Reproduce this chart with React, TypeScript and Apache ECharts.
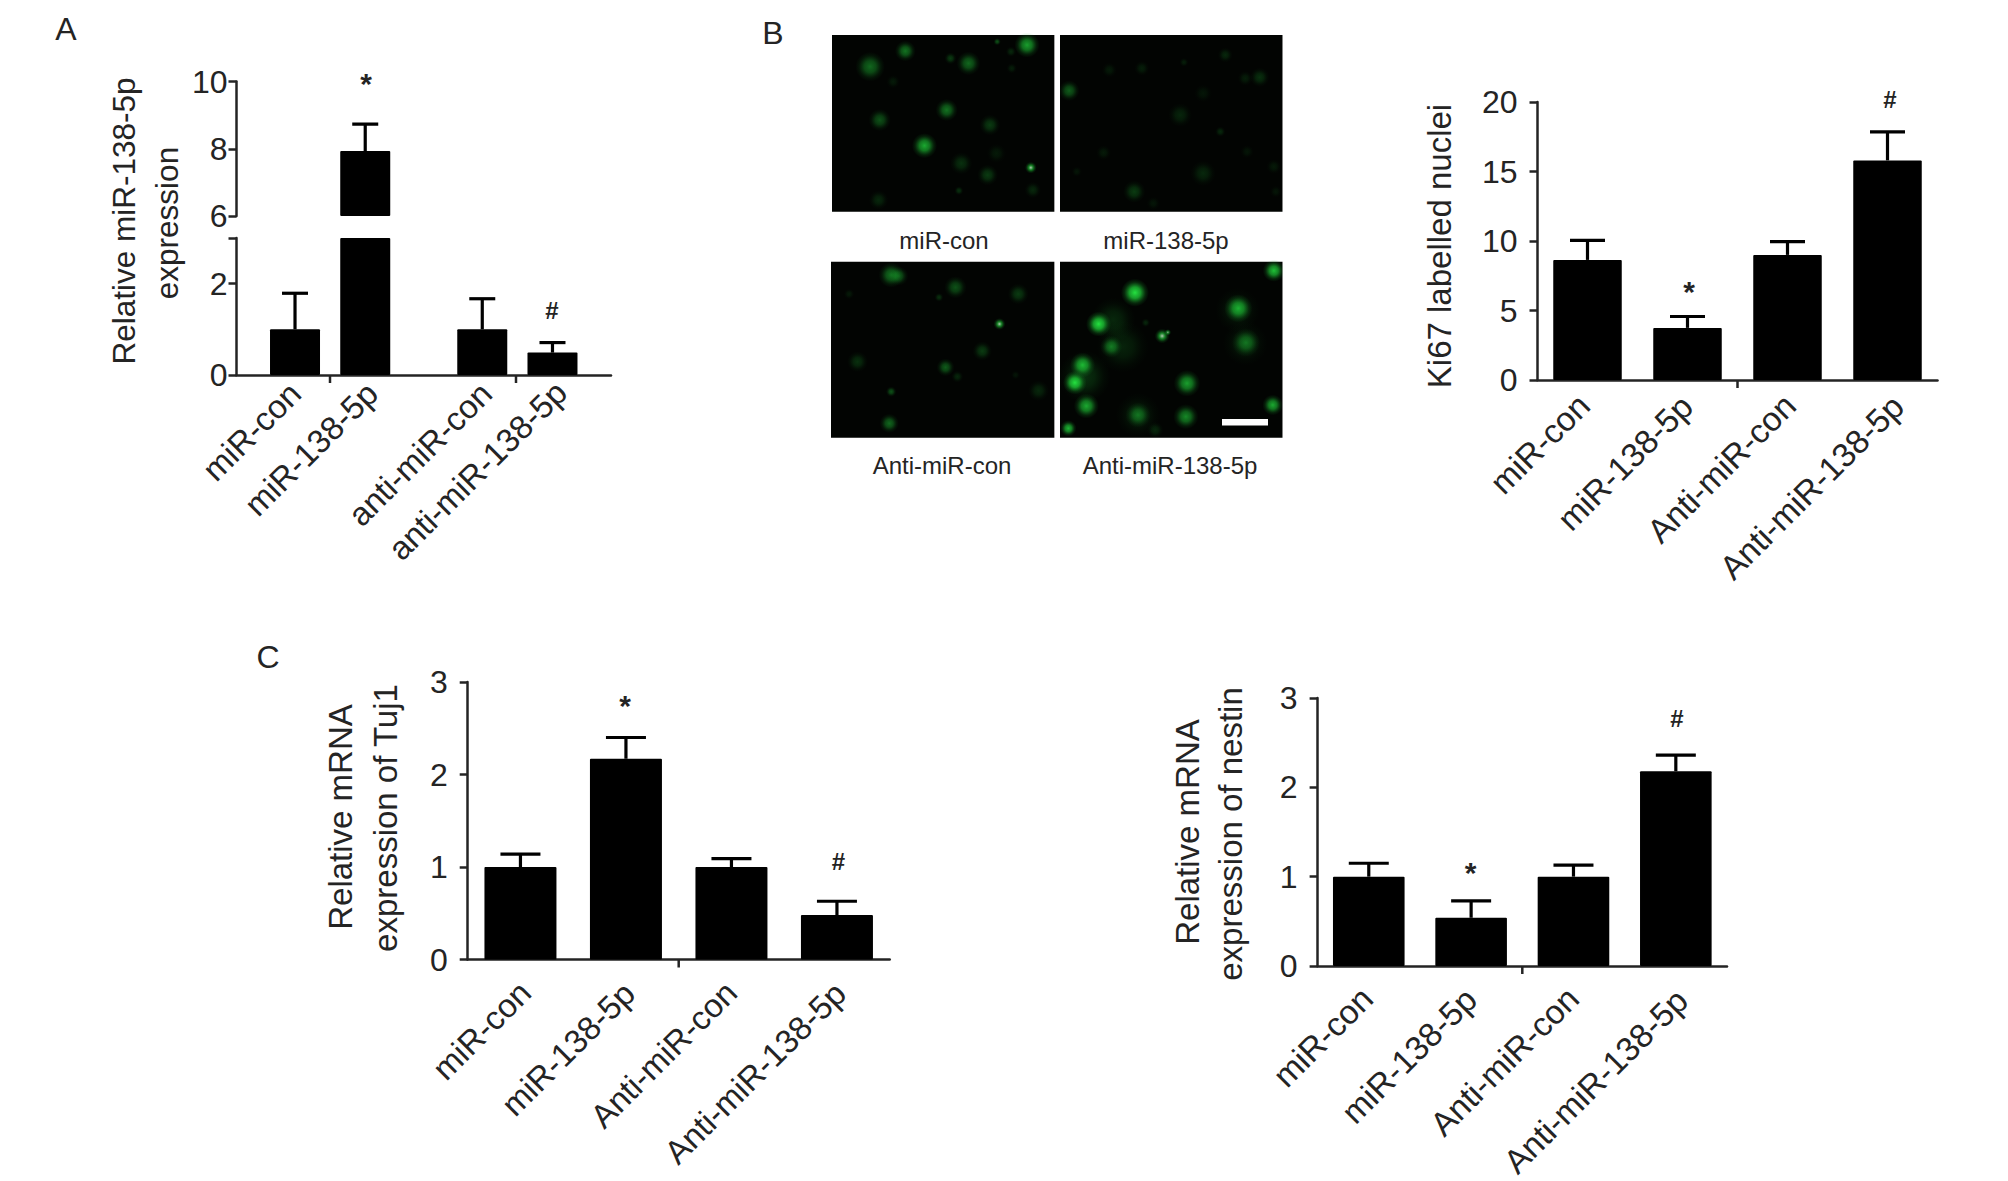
import React, { useEffect, useRef } from "react";
import * as echarts from "echarts";

const FONT = '"Liberation Sans", Arial, sans-serif';
const INK = "#242424";

// Panel A (broken axis, blank slots space the groups)
const aCategories = ["", "", "miR-con", "", "", "miR-138-5p", "", "", "", "", "anti-miR-con", "", "", "anti-miR-138-5p", "", ""];
const aMeans = [1.0, 7.93, 1.0, 0.49];
const aUppers = [1.79, 8.73, 1.67, 0.71];
// Panel B
const bCategories = ["miR-con", "miR-138-5p", "Anti-miR-con", "Anti-miR-138-5p"];
const bMeans = [8.64, 3.75, 9.0, 15.8];
const bUppers = [10.05, 4.57, 9.95, 17.85];
// Panel C, Tuj1
const tujMeans = [1.0, 2.17, 1.0, 0.48];
const tujUppers = [1.14, 2.4, 1.09, 0.63];
// Panel C, nestin
const nestinMeans = [1.0, 0.54, 1.0, 2.18];
const nestinUppers = [1.15, 0.73, 1.13, 2.36];

const imageLabels = ["miR-con", "miR-138-5p", "Anti-miR-con", "Anti-miR-138-5p"];

// Fluorescent nuclei in the micrographs: [x, y, radius, brightness]
const nuclei: number[][] = [
  [340, 200, 40, 0.45], [432, 153, 28, 0.5], [597, 190, 32, 0.45], [550, 175, 16, 0.25], [750, 135, 34, 0.7], [672, 125, 10, 0.35],
  [708, 155, 14, 0.16], [540, 330, 30, 0.5], [365, 360, 30, 0.35], [653, 375, 28, 0.25], [482, 437, 34, 0.75], [760, 503, 16, 0.8],
  [578, 490, 30, 0.2], [647, 525, 28, 0.25], [572, 572, 12, 0.2], [765, 570, 22, 0.16], [362, 600, 26, 0.16], [400, 245, 18, 0.1],
  [710, 205, 14, 0.12], [670, 460, 26, 0.1],
  [860, 272, 28, 0.4], [1050, 205, 20, 0.12], [965, 210, 20, 0.1], [1160, 187, 12, 0.12], [1268, 165, 20, 0.16], [1358, 232, 26, 0.2],
  [1320, 235, 20, 0.12], [1150, 345, 32, 0.15], [1255, 395, 14, 0.16], [950, 458, 20, 0.1], [880, 515, 14, 0.08], [1210, 520, 34, 0.16],
  [1030, 575, 30, 0.25], [1395, 500, 20, 0.1], [1400, 575, 16, 0.08], [1325, 455, 18, 0.08], [1210, 280, 24, 0.08], [1080, 610, 18, 0.08],
  [395, 825, 34, 0.5], [415, 828, 26, 0.35], [563, 862, 30, 0.35], [727, 882, 28, 0.25], [520, 892, 12, 0.2], [285, 882, 14, 0.1],
  [678, 972, 16, 0.8], [633, 1053, 26, 0.25], [307, 1085, 28, 0.2], [537, 1102, 24, 0.4], [568, 1130, 16, 0.16], [395, 1175, 14, 0.35],
  [390, 1270, 26, 0.45], [780, 1172, 28, 0.16], [720, 1125, 12, 0.08],
  [975, 960, 60, 0.16], [1000, 1040, 70, 0.14], [900, 1130, 70, 0.2], [1040, 1245, 60, 0.12], [1320, 1030, 60, 0.12], [1300, 930, 60, 0.12],
  [1032, 878, 38, 1], [1395, 812, 30, 0.85], [1302, 925, 38, 0.75], [937, 972, 34, 1], [1103, 1008, 20, 0.8],
  [1118, 997, 9, 0.65], [970, 1040, 30, 0.5], [1322, 1028, 38, 0.45], [895, 1095, 34, 0.8], [875, 1148, 32, 1], [1168, 1150, 36, 0.7],
  [905, 1218, 34, 0.75], [1040, 1245, 34, 0.45], [1165, 1250, 34, 0.6], [1392, 1215, 28, 0.75], [858, 1285, 22, 0.8], [1060, 968, 12, 0.16],
  [1085, 1290, 22, 0.16],
];

type Box = { left: number; right: number; top: number; bottom: number };
const HEIGHT = 1181;
const WIDTH = 2008;

const grid = (b: Box) => ({ left: b.left, width: b.right - b.left, top: b.top, height: b.bottom - b.top });

const aUpper: Box = { left: 236.5, right: 611, top: 81.5, bottom: 216 };
const aLower: Box = { left: 236.5, right: 611, top: 238, bottom: 375 };
const bBox: Box = { left: 1537.5, right: 1937.5, top: 102, bottom: 380 };
const cBox: Box = { left: 467.7, right: 889.7, top: 682, bottom: 959.5 };
const dBox: Box = { left: 1317.6, right: 1727, top: 698, bottom: 966 };

const axisLine = { show: true, onZero: false, lineStyle: { color: INK, width: 2.5 } };
const tick = { show: true, length: 8, lineStyle: { color: INK, width: 2.5 } };

const xAxis = (gridIndex: number, data: string[], show = true) => ({
  type: "category", gridIndex, data, show, boundaryGap: true,
  axisLine, axisTick: { show: false }, axisLabel: { show: false },
});
const yAxis = (gridIndex: number, min: number, max: number, interval: number, margin: number, hide?: number) => ({
  type: "value", gridIndex, min, max, interval, splitLine: { show: false }, axisLine, axisTick: tick,
  axisLabel: {
    margin, fontFamily: FONT, fontSize: 32, color: INK,
    formatter: (v: number) => (v === hide ? "" : String(v)),
  },
});

const bars = (axis: number, data: (number | null)[], barWidth: number) => ({
  type: "bar", xAxisIndex: axis, yAxisIndex: axis, data, barWidth, barGap: "-100%", clip: true,
  itemStyle: { color: "#000", borderRadius: 1 }, silent: true,
});

const errorBars = (axis: number, data: number[][], capWidth: number) => ({
  type: "custom", xAxisIndex: axis, yAxisIndex: axis, data, silent: true, clip: true,
  encode: { x: 0, y: [1, 2] },
  renderItem: (_p: any, api: any) => {
    const base = api.coord([api.value(0), api.value(1)]);
    const high = api.coord([api.value(0), api.value(2)]);
    const style = { stroke: "#000", lineWidth: 3.2 };
    return {
      type: "group",
      children: [
        { type: "line", shape: { x1: base[0], y1: base[1], x2: base[0], y2: high[1] }, style },
        { type: "line", shape: { x1: base[0] - capWidth / 2, y1: high[1], x2: base[0] + capWidth / 2, y2: high[1] }, style },
      ],
    };
  },
});

const label = (text: string, x: number, y: number, fontSize = 32, rotation = 0, fontWeight = "normal") => ({
  type: "text", x, y, rotation, z: 10,
  style: { text, x: 0, y: 0, align: "center", verticalAlign: "middle", fontFamily: FONT, fontSize, fontWeight, fill: INK },
});
const vertical = (text: string, x: number, y: number, size = 33) => label(text, x, y, size, Math.PI / 2);
const slanted = (text: string, x: number, y: number, fontSize: number) => ({
  type: "text", x, y, rotation: Math.PI / 4, z: 10,
  style: { text, x: 0, y: 0, align: "right", verticalAlign: "middle", fontFamily: FONT, fontSize, fill: INK },
});
const stub = (x: number, y: number) => ({
  type: "line", z: 10, shape: { x1: x, y1: y, x2: x, y2: y + 8 }, style: { stroke: INK, lineWidth: 2.5 },
});

const panelRects = [
  [832, 35, 222.6, 176.7], [1060, 35, 222.7, 176.7],
  [831, 261.7, 223.6, 176], [1060, 261.7, 222.7, 176],
];

const imageGraphics = () => {
  const out: any[] = panelRects.map(([x, y, width, height]) => ({
    type: "rect", shape: { x, y, width, height }, style: { fill: "#020402" }, z: 1,
  }));
  nuclei.forEach(([cx, cy, cr, a]) => {
    const white = cr <= 20 && a >= 0.65;
    out.push({
      type: "circle", z: 2,
      shape: { cx: 740 + cx / 2.613, cy: cy / 3, r: cr / 2.7 },
      style: {
        fill: {
          type: "radial", x: 0.5, y: 0.5, r: 0.5,
          colorStops: [
            { offset: 0, color: white ? `rgba(225,250,225,${a})` : `rgba(36,225,64,${a})` },
            { offset: 0.4, color: `rgba(30,205,55,${a * 0.75})` },
            { offset: 0.75, color: `rgba(25,170,45,${a * 0.22})` },
            { offset: 1, color: "rgba(20,150,40,0)" },
          ],
        },
      },
    });
  });
  // Thin white gutters keep glows inside each micrograph
  out.push({ type: "rect", z: 3, shape: { x: 1054.6, y: 30, width: 5.4, height: 415 }, style: { fill: "#fff" } });
  out.push({ type: "rect", z: 3, shape: { x: 1282.7, y: 30, width: 12, height: 415 }, style: { fill: "#fff" } });
  out.push({ type: "rect", z: 3, shape: { x: 1222, y: 419, width: 46, height: 6.5 }, style: { fill: "#fff" } });
  return out;
};

// Where each rotated tick label ends (the source figure offsets them unevenly)
const aEnds = [[295, 388], [372, 388], [486, 388], [561, 387]];
const bEnds = [[1584, 400], [1687, 401], [1790, 400], [1898, 401]];
const cEnds = [[525, 987], [629, 988], [731, 987], [840, 988]];
const dEnds = [[1367, 993], [1471, 994], [1573, 993], [1682, 995]];

export default function App() {
  const ref = useRef<HTMLDivElement>(null);
  useEffect(() => {
    if (!ref.current) return;
    const chart = echarts.init(ref.current, null, { renderer: "svg" });
    const aNames = aCategories.filter((c) => c);
    const aSlot = aNames.map((n) => aCategories.indexOf(n));
    const aFull = aCategories.map((c) => (c ? aMeans[aNames.indexOf(c)] : null));
    const aErr = aMeans.map((m, i) => [aSlot[i], m, aUppers[i]]);
    const zip = (m: number[], u: number[]) => m.map((v, i) => [i, v, u[i]]);

    chart.setOption({
      animation: false,
      backgroundColor: "#fff",
      grid: [grid(aUpper), grid(aLower), grid(bBox), grid(cBox), grid(dBox)],
      xAxis: [
        xAxis(0, aCategories, false),
        xAxis(1, aCategories),
        xAxis(2, bCategories),
        xAxis(3, bCategories),
        xAxis(4, bCategories),
      ],
      yAxis: [
        yAxis(0, 6, 10, 2, 9),
        yAxis(1, 0, 3, 2, 9, 3),
        yAxis(2, 0, 20, 5, 20),
        yAxis(3, 0, 3, 1, 20),
        yAxis(4, 0, 3, 1, 20),
      ],
      series: [
        bars(0, aFull.map((v) => (v !== null && v > 6 ? v : null)), 50),
        bars(1, aFull, 50),
        errorBars(0, aErr.filter((e) => e[1] > 6), 26),
        errorBars(1, aErr.filter((e) => e[1] <= 6), 26),
        bars(2, bMeans, 68.5),
        errorBars(2, zip(bMeans, bUppers), 35),
        bars(3, tujMeans, 72),
        errorBars(3, zip(tujMeans, tujUppers), 40),
        bars(4, nestinMeans, 71.6),
        errorBars(4, zip(nestinMeans, nestinUppers), 40),
      ],
      graphic: [
        ...imageGraphics(),
        ...aNames.map((t, i) => slanted(t, aEnds[i][0], aEnds[i][1], 33)),
        ...bCategories.map((t, i) => slanted(t, bEnds[i][0], bEnds[i][1], 33.5)),
        ...bCategories.map((t, i) => slanted(t, cEnds[i][0], cEnds[i][1], 33)),
        ...bCategories.map((t, i) => slanted(t, dEnds[i][0], dEnds[i][1], 33.5)),
        label("A", 66, 29),
        label("B", 773, 33),
        label("C", 268, 657),
        vertical("Relative miR-138-5p", 124, 221, 31.5),
        vertical("expression", 166.5, 223, 31.5),
        vertical("Ki67 labelled nuclei", 1439, 246),
        vertical("Relative mRNA", 340.5, 817),
        vertical("expression of Tuj1", 385, 818),
        vertical("Relative mRNA", 1187, 832),
        vertical("expression of nestin", 1230, 834),
        label(imageLabels[0], 944, 240, 24),
        label(imageLabels[1], 1166, 240, 24),
        label(imageLabels[2], 942, 465.7, 24),
        label(imageLabels[3], 1170, 465.7, 24),
        label("*", 366, 83, 30, 0, "bold"),
        label("#", 552, 310, 24, 0, "bold"),
        label("*", 1689, 291, 30, 0, "bold"),
        label("#", 1890, 99, 24, 0, "bold"),
        label("*", 625, 705, 30, 0, "bold"),
        label("#", 838.4, 861, 24, 0, "bold"),
        label("*", 1470.7, 872, 30, 0, "bold"),
        label("#", 1677, 718, 24, 0, "bold"),
        stub(330, 375), stub(516, 375), stub(1737.5, 380), stub(678.7, 959.5), stub(1522.3, 966),
      ],
    });
    return () => chart.dispose();
  }, []);
  return <div ref={ref} style={{ position: "fixed", left: 0, top: 0, width: WIDTH, height: HEIGHT, background: "#fff" }} />;
}
